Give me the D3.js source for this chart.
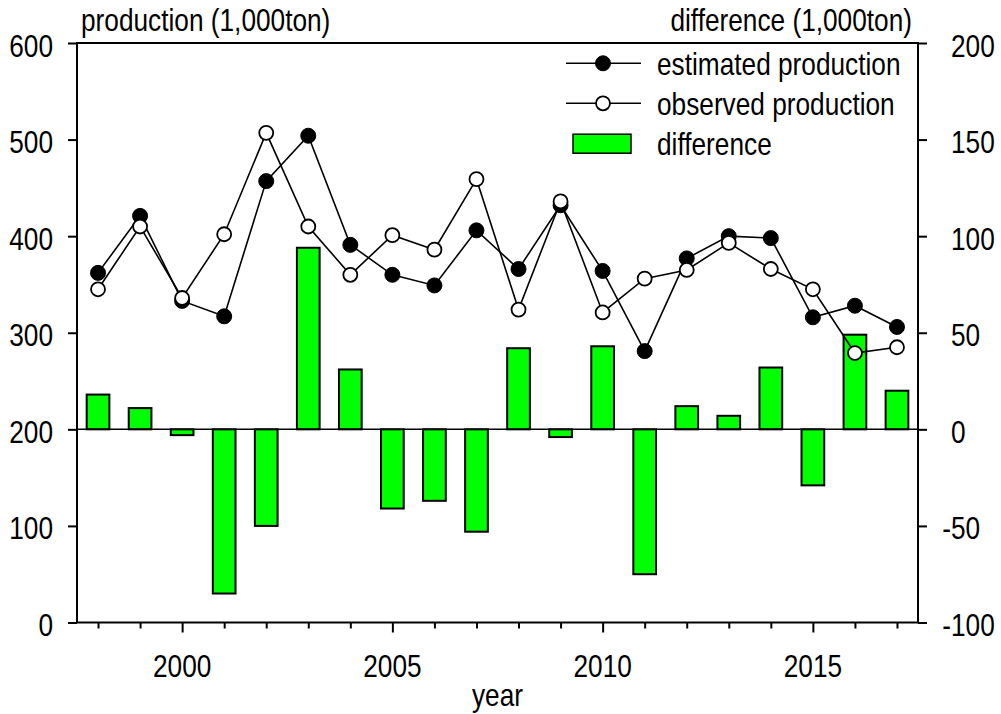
<!DOCTYPE html>
<html>
<head>
<meta charset="utf-8">
<script src="https://cdn.jsdelivr.net/npm/d3@7"></script>
<style>
  body { margin: 0; background: #fff; }
  svg { display: block; }
</style>
</head>
<body>
<svg id="chart" width="1001" height="714"></svg>
<script>
// Annual production (1,000 ton) and the estimated - observed difference
const years = d3.range(1998, 2018);
const estimated  = [362, 421, 333, 317, 457, 504, 391, 360, 349, 406, 366, 432, 364, 281, 377, 400, 398, 316, 328, 306];
const observed   = [345, 410, 336, 402, 507, 410, 360, 401, 386, 459, 324, 436, 321, 356, 365, 393, 366, 345, 279, 285];
const difference = [18, 11, -3, -85, -50, 94, 31, -41, -37, -53, 42, -4, 43, -75, 12, 7, 32, -29, 49, 20];

const leftTicks  = [0, 100, 200, 300, 400, 500, 600];
const rightTicks = [-100, -50, 0, 50, 100, 150, 200];
const yearTicks  = [2000, 2005, 2010, 2015];

const plot = { left: 77, right: 918, top: 43, bottom: 622.5 };

const svg = d3.select("#chart");

const x  = d3.scaleLinear().domain([1997.5, 2017.5]).range([plot.left, plot.right]);
const yL = d3.scaleLinear().domain([0, 600]).range([plot.bottom, plot.top]);
const yR = d3.scaleLinear().domain([-100, 200]).range([plot.bottom, plot.top]);

const FONT = "'Liberation Sans', Arial, sans-serif";
const SX = 0.82; // narrow lettering

function label(px, py, text, anchor) {
  return svg.append("text")
    .attr("transform", `translate(${px},${py}) scale(${SX},1)`)
    .attr("text-anchor", anchor)
    .attr("font-family", FONT)
    .attr("font-size", 32)
    .attr("fill", "#000")
    .text(text);
}

// bars: difference on the right-hand axis
const barW = (x(1) - x(0)) * 0.54;
svg.append("g").selectAll("rect")
  .data(difference)
  .join("rect")
  .attr("x", (d, i) => x(years[i]) - barW / 2)
  .attr("y", d => yR(Math.max(0, d)))
  .attr("width", barW)
  .attr("height", d => Math.abs(yR(d) - yR(0)))
  .attr("fill", "#00ff00")
  .attr("stroke", "#000")
  .attr("stroke-width", 2);

// zero reference line of the difference axis
svg.append("line")
  .attr("x1", plot.left).attr("x2", plot.right)
  .attr("y1", yR(0)).attr("y2", yR(0))
  .attr("stroke", "#000").attr("stroke-width", 1.5);

// production lines
const line = d3.line().x((d, i) => x(years[i])).y(d => yL(d));

function series(values, filled) {
  const g = svg.append("g");
  g.append("path")
    .datum(values)
    .attr("d", line)
    .attr("fill", "none")
    .attr("stroke", "#000")
    .attr("stroke-width", 1.6);
  g.selectAll("circle")
    .data(values)
    .join("circle")
    .attr("cx", (d, i) => x(years[i]))
    .attr("cy", d => yL(d))
    .attr("r", filled ? 7.5 : 7)
    .attr("fill", filled ? "#000" : "#fff")
    .attr("stroke", "#000")
    .attr("stroke-width", filled ? 1 : 1.8);
}
series(estimated, true);
series(observed, false);

// frame
svg.append("rect")
  .attr("x", plot.left).attr("y", plot.top)
  .attr("width", plot.right - plot.left)
  .attr("height", plot.bottom - plot.top)
  .attr("fill", "none")
  .attr("stroke", "#000")
  .attr("stroke-width", 2);

// axes (tick marks)
function ticksOnly(g) {
  g.select(".domain").remove();
  g.selectAll("line").attr("stroke", "#000").attr("stroke-width", 2);
  g.selectAll("text").remove();
}
svg.append("g")
  .attr("transform", `translate(${plot.left},0)`)
  .call(d3.axisLeft(yL).tickValues(leftTicks).tickSize(9).tickFormat(""))
  .call(ticksOnly);
svg.append("g")
  .attr("transform", `translate(${plot.right},0)`)
  .call(d3.axisRight(yR).tickValues(rightTicks).tickSize(9).tickFormat(""))
  .call(ticksOnly);
svg.append("g")
  .attr("transform", `translate(0,${plot.bottom})`)
  .call(d3.axisBottom(x).tickValues(years.filter(y => !yearTicks.includes(y))).tickSize(6).tickFormat(""))
  .call(ticksOnly);
svg.append("g")
  .attr("transform", `translate(0,${plot.bottom})`)
  .call(d3.axisBottom(x).tickValues(yearTicks).tickSize(10).tickFormat(""))
  .call(ticksOnly);

// tick labels
leftTicks.forEach(v => label(53, yL(v) + 13.5, String(v), "end"));
const minusW = 0.333 * 32 * SX;
rightTicks.forEach(v => {
  const s = String(v);
  label(v < 0 ? 951 - minusW : 951, yR(v) + 13.5, s, "start");
});
yearTicks.forEach(v => label(x(v), 677, String(v), "middle"));

// axis titles
label(81, 31, "production (1,000ton)", "start");
label(912, 31, "difference (1,000ton)", "end");
label((plot.left + plot.right) / 2, 706, "year", "middle");

// legend
const legend = svg.append("g");
const legRows = [63.3, 103.3, 143.7];
[true, false].forEach((filled, k) => {
  const ly = legRows[k];
  legend.append("line")
    .attr("x1", 566).attr("x2", 641).attr("y1", ly).attr("y2", ly)
    .attr("stroke", "#000").attr("stroke-width", 1.6);
  legend.append("circle")
    .attr("cx", 603).attr("cy", ly)
    .attr("r", filled ? 7.5 : 7)
    .attr("fill", filled ? "#000" : "#fff")
    .attr("stroke", "#000")
    .attr("stroke-width", filled ? 1 : 1.8);
});
legend.append("rect")
  .attr("x", 573).attr("y", legRows[2] - 9.5)
  .attr("width", 58).attr("height", 19)
  .attr("fill", "#00ff00")
  .attr("stroke", "#000")
  .attr("stroke-width", 1.5);
label(657, legRows[0] + 11.5, "estimated production", "start");
label(657, legRows[1] + 11.5, "observed production", "start");
label(657, legRows[2] + 11.5, "difference", "start");
</script>
</body>
</html>
